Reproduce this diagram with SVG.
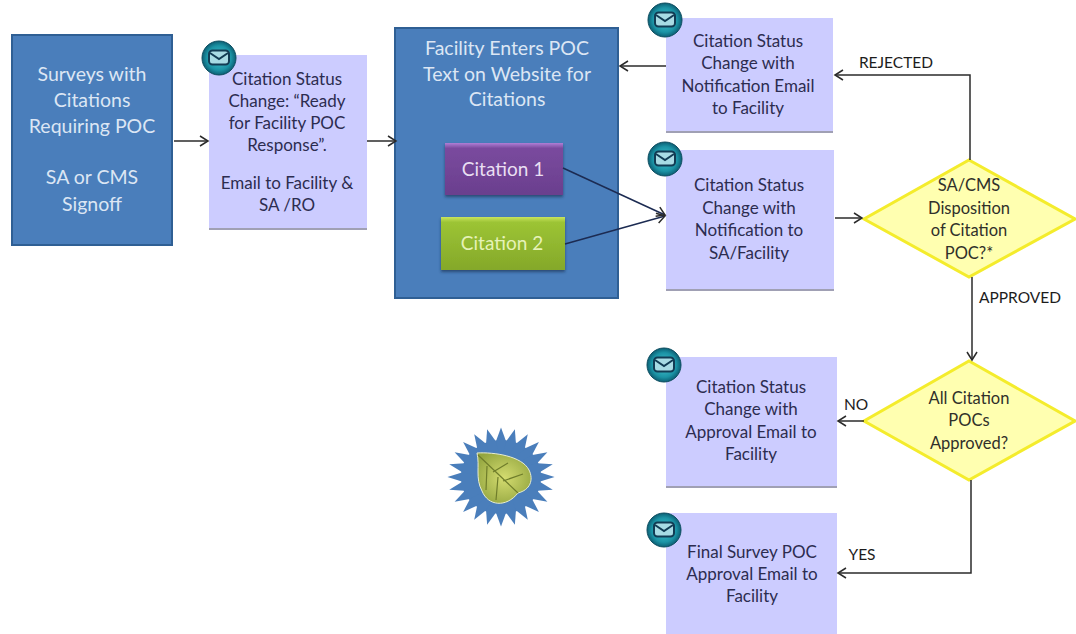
<svg xmlns="http://www.w3.org/2000/svg" width="1076" height="634" viewBox="0 0 1076 634">
<style>
text{font-family:Lato,"Liberation Sans",sans-serif;text-anchor:middle}
.blue{fill:#4a7ebb;stroke:#2f5f94;stroke-width:2}
.blue-t{fill:#dce6f4;font-size:19.500px}
.lav{fill:#ccccff}
.lav-edge{fill:#a0a0b4}
.lav-t{fill:#2c2c50;font-size:17px}
.dia{fill:#ffffb0;stroke:#f4ec2c;stroke-width:3}
.dia-t{fill:#30302a;font-size:16.500px}
.lab{fill:#1c1c1c;font-size:15.500px}
.wire{fill:none;stroke:#2b2b2b;stroke-width:1.500;marker-end:url(#arr)}
.cit-t{font-size:19px}
</style>
<defs>
<marker id="arr" markerWidth="12" markerHeight="12" refX="10" refY="6" orient="auto" markerUnits="userSpaceOnUse"><path d="M2 1L10 6L2 11" fill="none" stroke="#2b2b2b" stroke-width="1.500"/></marker>
<radialGradient id="teal" cx="50%" cy="50%" r="50%"><stop offset="0" stop-color="#47c6d2"/><stop offset=".72" stop-color="#1b93a5"/><stop offset="1" stop-color="#0c5f74"/></radialGradient>
<linearGradient id="pur" x1="0" y1="0" x2="0" y2="1"><stop offset="0" stop-color="#b07fd6"/><stop offset=".1" stop-color="#7a4a9e"/><stop offset="1" stop-color="#6a3f8e"/></linearGradient>
<linearGradient id="grn" x1="0" y1="0" x2="0" y2="1"><stop offset="0" stop-color="#c9e45f"/><stop offset=".1" stop-color="#9cc434"/><stop offset="1" stop-color="#84a82a"/></linearGradient>
<radialGradient id="leaf" cx="50%" cy="50%" r="60%"><stop offset="0" stop-color="#d4dc70"/><stop offset="1" stop-color="#93a53f"/></radialGradient>
<filter id="sh" x="-10%" y="-10%" width="120%" height="125%"><feDropShadow dx="0" dy="2" stdDeviation="1.500" flood-color="#1d3557" flood-opacity=".7"/></filter>
<polygon id="spike" points="0,-52 4.800,-38 4.800,38 0,52 -4.800,38 -4.800,-38" fill="#4a7ebb"/>
<g id="mail"><circle r="17" fill="url(#teal)" stroke="#0d4d60" stroke-width="1"/><rect x="-10" y="-7.500" width="20" height="14" rx="3.500" fill="#a8dbe4" stroke="#123c54" stroke-width="2"/><path d="M-9-5L0 1L9-5" fill="none" stroke="#123c54" stroke-width="2"/></g>
</defs>

<g id="n-surveys">
<rect class="blue" x="12" y="35" width="160" height="210"/>
<text class="blue-t" x="92" y="81">Surveys with</text><text class="blue-t" x="92" y="107">Citations</text><text class="blue-t" x="92" y="133">Requiring POC</text><text class="blue-t" x="92" y="184">SA or CMS</text><text class="blue-t" x="92" y="211">Signoff</text>
</g>

<g id="n-ready">
<rect class="lav" x="209" y="55" width="158" height="175"/><rect class="lav-edge" x="209" y="228" width="158" height="2"/>
<use href="#mail" x="219" y="58"/>
<text class="lav-t" x="287" y="85">Citation Status</text><text class="lav-t" x="287" y="107">Change: “Ready</text><text class="lav-t" x="287" y="129">for Facility POC</text><text class="lav-t" x="287" y="151">Response”.</text><text class="lav-t" x="287" y="189">Email to Facility &amp;</text><text class="lav-t" x="287" y="211">SA /RO</text>
</g>

<g id="n-facility">
<rect class="blue" x="395" y="28" width="223" height="270"/>
<text class="blue-t" x="507" y="55">Facility Enters POC</text><text class="blue-t" x="507" y="81">Text on Website for</text><text class="blue-t" x="507" y="106">Citations</text>
</g>
<g id="n-citation1">
<rect x="445" y="143" width="118" height="52" fill="url(#pur)" filter="url(#sh)"/>
<text class="cit-t" x="503" y="176" fill="#e9dff2">Citation 1</text>
</g>
<g id="n-citation2">
<rect x="441" y="217" width="124" height="53" fill="url(#grn)" filter="url(#sh)"/>
<text class="cit-t" x="502" y="250" fill="#e6f2b8">Citation 2</text>
</g>

<g id="n-rejected">
<rect class="lav" x="666" y="18" width="167" height="115"/><rect class="lav-edge" x="666" y="131" width="167" height="2"/>
<use href="#mail" x="665" y="20"/>
<text class="lav-t" x="748" y="47">Citation Status</text><text class="lav-t" x="748" y="69">Change with</text><text class="lav-t" x="748" y="92">Notification Email</text><text class="lav-t" x="748" y="114">to Facility</text>
</g>

<g id="n-notify">
<rect class="lav" x="666" y="150" width="168" height="141"/><rect class="lav-edge" x="666" y="289" width="168" height="2"/>
<use href="#mail" x="665" y="159"/>
<text class="lav-t" x="749" y="191">Citation Status</text><text class="lav-t" x="749" y="214">Change with</text><text class="lav-t" x="749" y="236">Notification to</text><text class="lav-t" x="749" y="259">SA/Facility</text>
</g>

<g id="n-disposition">
<polygon class="dia" points="969,160 1075,219 969,277 864,219"/>
<text class="dia-t" x="969" y="191">SA/CMS</text><text class="dia-t" x="969" y="214">Disposition</text><text class="dia-t" x="969" y="236">of Citation</text><text class="dia-t" x="969" y="259">POC?*</text>
</g>

<g id="n-all">
<polygon class="dia" points="969,361 1075,421 969,480 864,421"/>
<text class="dia-t" x="969" y="404">All Citation</text><text class="dia-t" x="969" y="426">POCs</text><text class="dia-t" x="969" y="449">Approved?</text>
</g>

<g id="n-approval">
<rect class="lav" x="666" y="357" width="171" height="131"/><rect class="lav-edge" x="666" y="486" width="171" height="2"/>
<use href="#mail" x="664" y="365"/>
<text class="lav-t" x="751" y="393">Citation Status</text><text class="lav-t" x="751" y="415">Change with</text><text class="lav-t" x="751" y="438">Approval Email to</text><text class="lav-t" x="751" y="460">Facility</text>
</g>

<g id="n-final">
<rect class="lav" x="666" y="513" width="171" height="121"/>
<use href="#mail" x="664" y="530"/>
<text class="lav-t" x="752" y="558">Final Survey POC</text><text class="lav-t" x="752" y="580">Approval Email to</text><text class="lav-t" x="752" y="602">Facility</text>
</g>

<g id="connectors">
<path class="wire" d="M174 141H208"/>
<path class="wire" d="M367 141H396"/>
<path class="wire" d="M666 66H620"/>
<path class="wire" d="M563 168L665 215" style="stroke:#1c2b52"/>
<path class="wire" d="M565 244L665 216" style="stroke:#1c2b52"/>
<path class="wire" d="M835 218H862"/>
<path class="wire" d="M970 160V75H835"/>
<path class="wire" d="M972 277V360"/>
<path class="wire" d="M864 421H838"/>
<path class="wire" d="M971 480V573H838"/>
</g>

<g id="labels">
<text class="lab" x="896" y="68">REJECTED</text>
<text class="lab" x="1020" y="303">APPROVED</text>
<text class="lab" x="856" y="410">NO</text>
<text class="lab" x="862" y="560">YES</text>
</g>

<g id="seal">
<g transform="translate(501 477) scale(1.03 .95)">
<circle r="39" fill="#4a7ebb"/>
<use href="#spike"/><use href="#spike" transform="rotate(15)"/><use href="#spike" transform="rotate(30)"/><use href="#spike" transform="rotate(45)"/><use href="#spike" transform="rotate(60)"/><use href="#spike" transform="rotate(75)"/><use href="#spike" transform="rotate(90)"/><use href="#spike" transform="rotate(105)"/><use href="#spike" transform="rotate(120)"/><use href="#spike" transform="rotate(135)"/><use href="#spike" transform="rotate(150)"/><use href="#spike" transform="rotate(165)"/>
</g>
<path d="M477 453C494 452 522 456 529 470C534 480 530 490 518 493C506 508 488 506 482 491C475 478 480 466 477 453Z" fill="url(#leaf)" stroke="#e6ecd2" stroke-width="1"/>
<path d="M478 455L518 493M493 472L508 463M503 481L523 474M487 466L486 490M498 477L496 500" fill="none" stroke="#6f7d2b" stroke-width="1.200"/>
</g>
</svg>
